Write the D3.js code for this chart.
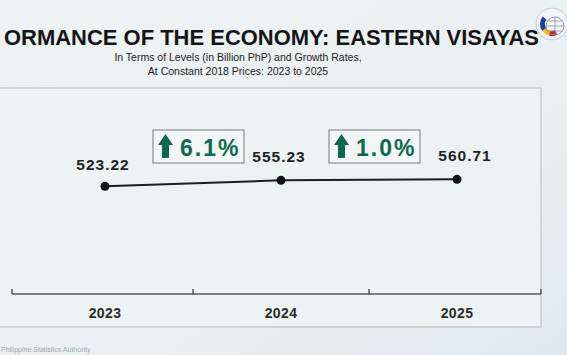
<!DOCTYPE html>
<html><head><meta charset="utf-8">
<script src="https://cdn.jsdelivr.net/npm/d3@7"></script>
<style>html,body{margin:0;padding:0;overflow:hidden;background:#e9eff1}</style>
</head><body>
<svg id="c" width="567" height="355"></svg>
<script>
const years = ["2023", "2024", "2025"];
const levels = [523.22, 555.23, 560.71];
const growth = ["6.1%", "1.0%"];
const titleText = "ORMANCE OF THE ECONOMY: EASTERN VISAYAS";
const subtitle = ["In Terms of Levels (in Billion PhP) and Growth Rates,", "At Constant 2018 Prices: 2023 to 2025"];

const FONT = "Liberation Sans, Arial, sans-serif";
const svg = d3.select("#c");
const defs = svg.append("defs");
const g1 = defs.append("linearGradient").attr("id","bg").attr("x1","0").attr("y1","0").attr("x2","1").attr("y2","1");
g1.append("stop").attr("offset","0").attr("stop-color","#eef2f3");
g1.append("stop").attr("offset","0.6").attr("stop-color","#eaf0f1");
g1.append("stop").attr("offset","1").attr("stop-color","#dfe9ec");
svg.append("rect").attr("width",567).attr("height",355).attr("fill","url(#bg)");

// panel
svg.append("rect").attr("x",-5).attr("y",88).attr("width",546).attr("height",239)
  .attr("fill","#edf2f3").attr("stroke","#b9c3c6").attr("stroke-width",1.2);

const x = d3.scaleBand().domain(years).range([17, 545]);
const y = d3.scaleLinear().domain([0, 600]).range([284, 172]);

// axis
const ax = svg.append("g").attr("transform","translate(0,294)")
  .call(d3.axisBottom(x).tickSize(0).tickPadding(14));
ax.select(".domain").remove();
ax.append("line").attr("x1",12).attr("x2",541).attr("stroke","#555").attr("stroke-width",1.5);
ax.selectAll("text").attr("font-family",FONT)
  .attr("font-weight","bold").attr("font-size",14).attr("letter-spacing",0.4).attr("fill","#2b2b2b");
const bounds = [12, x(years[1]), x(years[2]), 541];
ax.selectAll(".bt").data(bounds).enter().append("line").attr("class","bt")
  .attr("x1",d=>d).attr("x2",d=>d).attr("y1",0).attr("y2",-5)
  .attr("stroke","#555").attr("stroke-width",1.5);

const cx = d => x(d) + x.bandwidth()/2;
const pts = years.map((d,i)=>({year:d, v:levels[i]}));

svg.append("path").datum(pts)
  .attr("d", d3.line().x(d=>cx(d.year)).y(d=>y(d.v)))
  .attr("fill","none").attr("stroke","#1e1e1e").attr("stroke-width",2);
svg.selectAll(".pt").data(pts).enter().append("circle")
  .attr("cx",d=>cx(d.year)).attr("cy",d=>y(d.v)).attr("r",4.5).attr("fill","#141414");

const lblDx = [-2, -2, 8];
svg.selectAll(".vl").data(pts).enter().append("text")
  .attr("x",(d,i)=>cx(d.year)+lblDx[i]).attr("y",(d,i)=>y(d.v)-16 - (i>0?2:0))
  .attr("text-anchor","middle").attr("font-family",FONT)
  .attr("font-weight","bold").attr("font-size",15.5).attr("letter-spacing",1).attr("fill","#222")
  .text(d=>d.v.toFixed(2));

// growth boxes
growth.forEach((gv,i)=>{
  const mid = x(years[i+1]) + 5;
  const bx = mid - 45, by = 130, bw = 91, bh = 33;
  const gg = svg.append("g");
  gg.append("rect").attr("x",bx).attr("y",by).attr("width",bw).attr("height",bh)
    .attr("fill","#f3f6f6").attr("stroke","#8a8f90").attr("stroke-width",1.2);
  const ax0 = bx + 12.5, ay0 = by + 4;
  gg.append("path").attr("d",
    `M${ax0-7.5},${ay0+11} L${ax0},${ay0} L${ax0+7.5},${ay0+11} L${ax0+3.5},${ay0+11} L${ax0+3.5},${ay0+24} L${ax0-3.5},${ay0+24} L${ax0-3.5},${ay0+11} Z`)
    .attr("fill","#0b6a4c");
  gg.append("text").attr("x",bx+27).attr("y",by+26)
    .attr("font-family",FONT).attr("font-weight","bold").attr("letter-spacing",2)
    .attr("font-size",23).attr("fill","#0b6a4c").text(gv);
});

// title
svg.append("text").attr("x",4).attr("y",45)
  .attr("font-family",FONT).attr("font-weight","bold")
  .attr("font-size",22).attr("textLength",535).attr("lengthAdjust","spacingAndGlyphs")
  .attr("fill","#151515").text(titleText);
svg.selectAll(".st").data(subtitle).enter().append("text")
  .attr("x",238).attr("y",(d,i)=>61+i*14).attr("text-anchor","middle")
  .attr("font-family",FONT).attr("font-size",10.5)
  .attr("fill","#222").text(d=>d);

// footer
svg.append("text").attr("x",1).attr("y",352).attr("font-family",FONT)
  .attr("font-size",7).attr("fill","#9aa").text("Philippine Statistics Authority");

// logo
const lg = svg.append("g").attr("transform","translate(552,24)");
lg.append("circle").attr("r",16).attr("fill","#f2f4f6").attr("stroke","#c8cfd6").attr("stroke-width",1);
const arc = d3.arc().innerRadius(7).outerRadius(12);
[["#1f3f9a",-2.2,-0.9],["#f2c21b",-2.9,-2.2],["#d2232a",-3.6,-2.9]].forEach(([c,a0,a1])=>{
  lg.append("path").attr("d",arc({startAngle:a0,endAngle:a1})).attr("fill",c);
});
lg.append("circle").attr("cx",3).attr("cy",2).attr("r",9).attr("fill","none").attr("stroke","#7a8aa0").attr("stroke-width",0.8);
lg.append("path").attr("d","M-6,2 H12 M3,-7 V11 M-4,-3 H10 M-4,7 H10").attr("stroke","#7a8aa0").attr("stroke-width",0.7);
</script>
</body></html>
